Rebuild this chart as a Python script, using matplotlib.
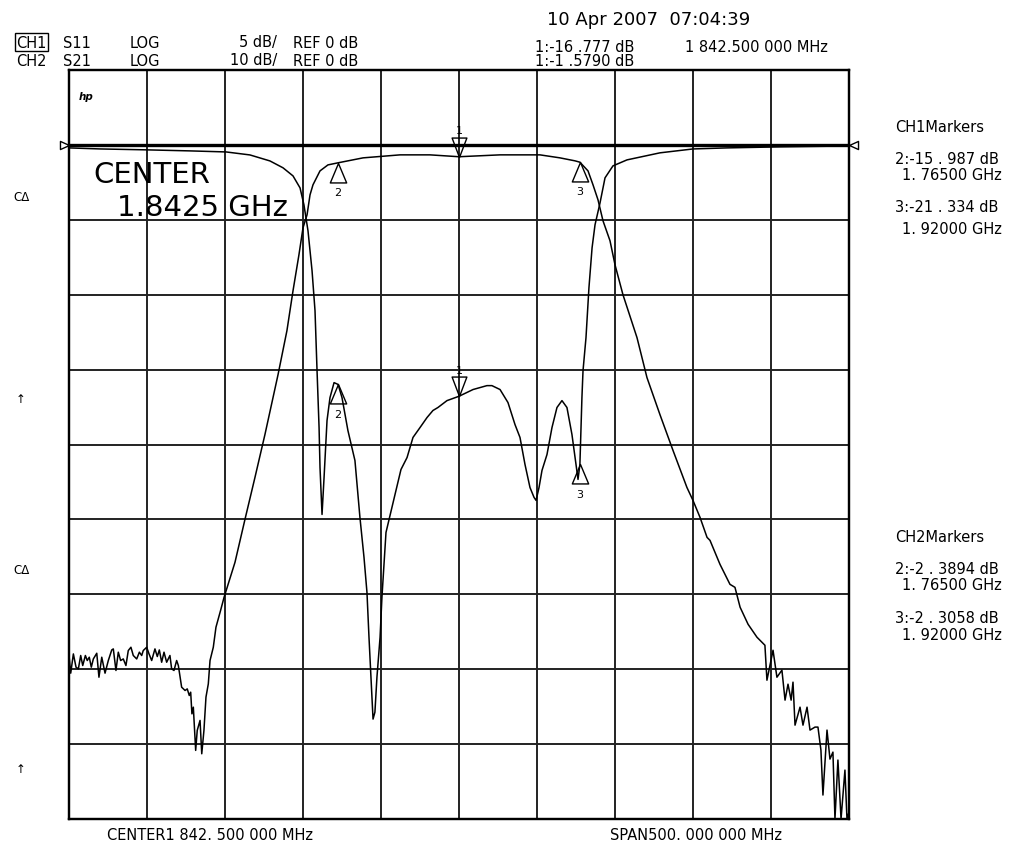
import matplotlib
matplotlib.use('Agg')
import matplotlib.pyplot as plt
import numpy as np
from matplotlib.path import Path

plt.rcParams['font.family'] = ['DejaVu Sans']

# sweep: center 1842.5 MHz, span 500 MHz
f_start = 1592.5
f_stop = 2092.5

# CH1 S11 (5 dB/div, ref 0 dB)
s11_freq = [1592.5, 1612.4, 1641.9, 1670.1, 1693.2, 1708.5, 1721.3, 1729.7, 1736.1, 1740.6,
            1743.1, 1745.7, 1748.3, 1750.2, 1751.5, 1752.8, 1753.4, 1754.7, 1756.0, 1757.9,
            1759.8, 1762.4, 1765.0, 1767.5, 1771.3, 1775.8, 1779.0, 1781.6, 1783.5, 1784.8,
            1786.7, 1787.4, 1788.6, 1789.9, 1791.9, 1793.1, 1795.7, 1798.3, 1801.5, 1805.3,
            1809.2, 1813.0, 1817.5, 1822.0, 1825.8, 1829.0, 1834.8, 1842.5, 1851.5, 1860.4,
            1863.6, 1868.8, 1873.9, 1878.4, 1881.6, 1884.8, 1888.0, 1890.6, 1891.9, 1893.8,
            1895.7, 1898.9, 1902.1, 1905.3, 1908.5, 1911.7, 1914.9, 1916.9, 1918.8, 1920.0,
            1921.3, 1922.0, 1923.9, 1925.8, 1927.8, 1929.7, 1932.9, 1936.1, 1941.2, 1950.2,
            1971.3, 1992.5, 2014.3, 2048.3, 2092.5]
s11_db = [-0.2, -0.27, -0.33, -0.4, -0.47, -0.67, -1.07, -1.53, -2.07, -2.87,
          -4.0, -5.73, -8.4, -11.07, -15.07, -18.87, -21.53, -24.67, -22.2, -18.4,
          -16.87, -15.87, -15.99, -16.87, -19.07, -21.07, -24.87, -27.53, -29.87, -32.87,
          -36.87, -38.33, -37.87, -35.53, -32.87, -30.2, -25.87, -24.73, -23.33, -21.67,
          -20.87, -19.53, -18.87, -18.2, -17.73, -17.53, -17.07, -16.78, -16.33, -16.07,
          -16.07, -16.33, -17.2, -18.67, -19.53, -21.33, -22.87, -23.53, -23.73, -22.87,
          -21.73, -20.67, -18.87, -17.53, -17.07, -17.53, -19.33, -20.87, -22.33, -21.33,
          -16.87, -15.07, -12.87, -9.53, -6.87, -5.33, -3.87, -2.2, -1.4, -1.0,
          -0.53, -0.27, -0.2, -0.13, -0.07]

# CH2 S21 (10 dB/div, ref 0 dB)
s21_freq = [1592.5, 1593.6, 1595.3, 1597.0, 1598.5, 1600.0, 1601.3, 1603.0, 1604.2, 1605.5,
            1606.8, 1608.1, 1610.3, 1611.7, 1613.5, 1615.6, 1617.7, 1619.9, 1620.9, 1622.6,
            1624.1, 1625.6, 1627.3, 1629.0, 1630.5, 1632.2, 1633.7, 1635.9, 1637.6, 1639.1,
            1640.1, 1642.3, 1643.8, 1645.5, 1647.6, 1649.1, 1650.4, 1651.9, 1653.4, 1655.1,
            1657.2, 1658.3, 1659.8, 1661.5, 1662.6, 1663.7, 1664.7, 1666.9, 1668.3, 1669.6,
            1670.5, 1671.3, 1672.2, 1673.7, 1674.7, 1676.5, 1677.6, 1679.0, 1680.3, 1681.8,
            1682.9, 1685.0, 1686.7, 1689.7, 1691.9, 1698.9, 1705.3, 1711.7, 1718.1, 1722.6,
            1726.5, 1732.2, 1736.1, 1739.9, 1742.5, 1745.1, 1747.0, 1748.9, 1753.4, 1758.5,
            1765.0, 1781.0, 1804.7, 1823.9, 1842.5, 1868.8, 1894.4, 1907.2, 1916.9, 1920.0,
            1925.2, 1928.4, 1931.6, 1934.8, 1939.3, 1942.5, 1947.6, 1956.6, 1963.0, 1971.3,
            1979.7, 1988.6, 1992.5, 1997.0, 2001.5, 2003.4, 2009.8, 2016.2, 2019.4, 2022.7,
            2027.8, 2033.5, 2038.6, 2039.9, 2043.8, 2046.3, 2049.5, 2051.5, 2053.4, 2055.4,
            2056.6, 2057.9, 2061.1, 2063.0, 2065.6, 2067.5, 2070.7, 2072.6, 2074.5, 2075.8,
            2078.4, 2080.3, 2082.2, 2083.5, 2085.4, 2087.4, 2089.9, 2091.2, 2092.5]
s21_db = [-68.17, -70.53, -67.96, -69.73, -69.96, -68.17, -69.51, -68.17, -68.84, -68.4,
          -69.73, -68.63, -67.87, -71.07, -68.4, -70.53, -68.84, -67.43, -67.29, -70.17,
          -67.73, -68.84, -68.63, -69.51, -67.51, -67.07, -68.17, -68.63, -67.73, -68.17,
          -67.51, -67.07, -67.96, -68.84, -67.29, -68.31, -67.43, -69.07, -67.73, -69.07,
          -68.17, -69.96, -70.17, -68.84, -69.51, -71.07, -72.4, -72.84, -72.63, -73.51,
          -73.07, -75.96, -75.07, -80.84, -78.17, -76.84, -81.29, -78.17, -73.73, -71.96,
          -68.84, -67.07, -64.4, -62.13, -60.4, -55.73, -50.0, -44.4, -38.67, -34.4,
          -30.67, -24.8, -19.47, -14.67, -11.07, -9.33, -6.67, -5.33, -3.47, -2.67,
          -2.39, -1.73, -1.33, -1.33, -1.58, -1.33, -1.33, -1.73, -2.13, -2.31,
          -3.47, -5.33, -7.33, -10.13, -12.8, -16.0, -20.0, -25.73, -31.07, -36.0,
          -40.8, -45.73, -47.47, -49.73, -52.4, -52.8, -56.0, -58.67, -59.07, -61.73,
          -64.0, -65.73, -66.8, -71.47, -67.47, -71.07, -70.13, -74.13, -72.0, -74.13,
          -71.73, -77.47, -75.07, -77.47, -75.07, -78.13, -77.73, -77.73, -80.8, -86.8,
          -78.13, -82.0, -81.07, -90.0, -82.13, -90.0, -83.47, -90.0, -89.07]

# markers 1, 2, 3
mk_freq = [1842.5, 1765.0, 1920.0]
mk_s11 = [-16.777, -15.987, -21.334]
mk_s21 = [-1.579, -2.3894, -2.3058]

W, H = 1018, 845
FS = 10.5


def fx(x):
    return x / W


def fy(y):
    return 1 - y / H


fig = plt.figure(figsize=(W / 100, H / 100), dpi=100)
ax1 = fig.add_axes([fx(69), fy(820), 780 / W, 749 / H])
ax2 = ax1.twinx()

ax1.set_xlim(f_start, f_stop)
ax1.set_ylim(-45, 5)
ax2.set_ylim(-90, 10)

ax1.set_xticks(np.linspace(f_start, f_stop, 11))
ax1.set_yticks(np.arange(-45, 6, 5))
ax2.set_yticks([])
ax1.grid(True, color='#222222', linewidth=1.4)
ax1.tick_params(length=0, labelbottom=False, labelleft=False)
ax2.tick_params(length=0, labelright=False)
for ax in (ax1, ax2):
    for sp in ax.spines.values():
        sp.set_linewidth(1.6)
        sp.set_color('black')

# reference line (0 dB for both channels)
ax1.axhline(0, color='black', linewidth=2.4)

ax1.plot(s11_freq, s11_db, color='black', linewidth=1.1)
ax2.plot(s21_freq, s21_db, color='black', linewidth=1.1)

# reference position arrows
tri_right = Path([(0, 0), (-1, 0.45), (-1, -0.45), (0, 0)],
                 [Path.MOVETO, Path.LINETO, Path.LINETO, Path.CLOSEPOLY])
tri_left = Path([(0, 0), (1, 0.45), (1, -0.45), (0, 0)],
                [Path.MOVETO, Path.LINETO, Path.LINETO, Path.CLOSEPOLY])
ax1.plot([f_start], [0], marker=tri_right, ms=13, mfc='white', mec='black', mew=1, clip_on=False)
ax1.plot([f_stop], [0], marker=tri_left, ms=13, mfc='white', mec='black', mew=1, clip_on=False)

# marker triangles
tri_down = Path([(0, 0), (-0.38, 1), (0.38, 1), (0, 0)],
                [Path.MOVETO, Path.LINETO, Path.LINETO, Path.CLOSEPOLY])
tri_up = Path([(0, 0), (-0.42, -1), (0.42, -1), (0, 0)],
              [Path.MOVETO, Path.LINETO, Path.LINETO, Path.CLOSEPOLY])

for ax, vals in ((ax1, mk_s11), (ax2, mk_s21)):
    for i, (f, v) in enumerate(zip(mk_freq, vals)):
        if i == 0:
            ax.plot([f], [v], marker=tri_down, ms=28, mfc='none', mec='black', mew=1)
            ax.annotate(str(i + 1), (f, v), xytext=(0, 19), textcoords='offset points',
                        ha='center', va='center', fontsize=8)
        else:
            ax.plot([f], [v], marker=tri_up, ms=28, mfc='none', mec='black', mew=1)
            ax.annotate(str(i + 1), (f, v), xytext=(0, -21), textcoords='offset points',
                        ha='center', va='center', fontsize=8)

# header
fig.text(fx(547), fy(20), '10 Apr 2007  07:04:39', fontsize=13, va='center')
fig.text(fx(16), fy(43), 'CH1', fontsize=FS, va='center',
         bbox=dict(boxstyle='square,pad=0.1', fc='white', ec='black', lw=1))
fig.text(fx(63), fy(43), 'S11', fontsize=FS, va='center')
fig.text(fx(130), fy(43), 'LOG', fontsize=FS, va='center')
fig.text(fx(277), fy(43), '5 dB/', fontsize=FS, va='center', ha='right')
fig.text(fx(293), fy(43), 'REF 0 dB', fontsize=FS, va='center')
fig.text(fx(16), fy(61), 'CH2', fontsize=FS, va='center')
fig.text(fx(63), fy(61), 'S21', fontsize=FS, va='center')
fig.text(fx(130), fy(61), 'LOG', fontsize=FS, va='center')
fig.text(fx(277), fy(61), '10 dB/', fontsize=FS, va='center', ha='right')
fig.text(fx(293), fy(61), 'REF 0 dB', fontsize=FS, va='center')
fig.text(fx(535), fy(48), '1:-16 .777 dB', fontsize=FS, va='center')
fig.text(fx(685), fy(48), '1 842.500 000 MHz', fontsize=FS, va='center')
fig.text(fx(535), fy(61), '1:-1 .5790 dB', fontsize=FS, va='center')

# inside the grid
fig.text(fx(79), fy(97), 'hp', fontsize=7.5, style='italic', weight='bold', va='center')
fig.text(fx(93), fy(175), 'CENTER', fontsize=21, va='center')
fig.text(fx(117), fy(208), '1.8425 GHz', fontsize=21, va='center')

# left annotations
for y, s in ((198, 'CΔ'), (400, '↑'), (570, 'CΔ'), (770, '↑')):
    fig.text(fx(21), fy(y), s, fontsize=8.5, va='center', ha='center')

# right marker tables
fig.text(fx(895), fy(127), 'CH1Markers', fontsize=FS, va='center')
fig.text(fx(895), fy(159), '2:-15 . 987 dB', fontsize=FS, va='center')
fig.text(fx(902), fy(176), '1. 76500 GHz', fontsize=FS, va='center')
fig.text(fx(895), fy(207), '3:-21 . 334 dB', fontsize=FS, va='center')
fig.text(fx(902), fy(230), '1. 92000 GHz', fontsize=FS, va='center')
fig.text(fx(895), fy(537), 'CH2Markers', fontsize=FS, va='center')
fig.text(fx(895), fy(569), '2:-2 . 3894 dB', fontsize=FS, va='center')
fig.text(fx(902), fy(586), '1. 76500 GHz', fontsize=FS, va='center')
fig.text(fx(895), fy(619), '3:-2 . 3058 dB', fontsize=FS, va='center')
fig.text(fx(902), fy(636), '1. 92000 GHz', fontsize=FS, va='center')

# footer
fig.text(fx(107), fy(836), 'CENTER1 842. 500 000 MHz', fontsize=FS, va='center')
fig.text(fx(610), fy(836), 'SPAN500. 000 000 MHz', fontsize=FS, va='center')

fig.savefig('out.png', dpi=100, facecolor='white')
